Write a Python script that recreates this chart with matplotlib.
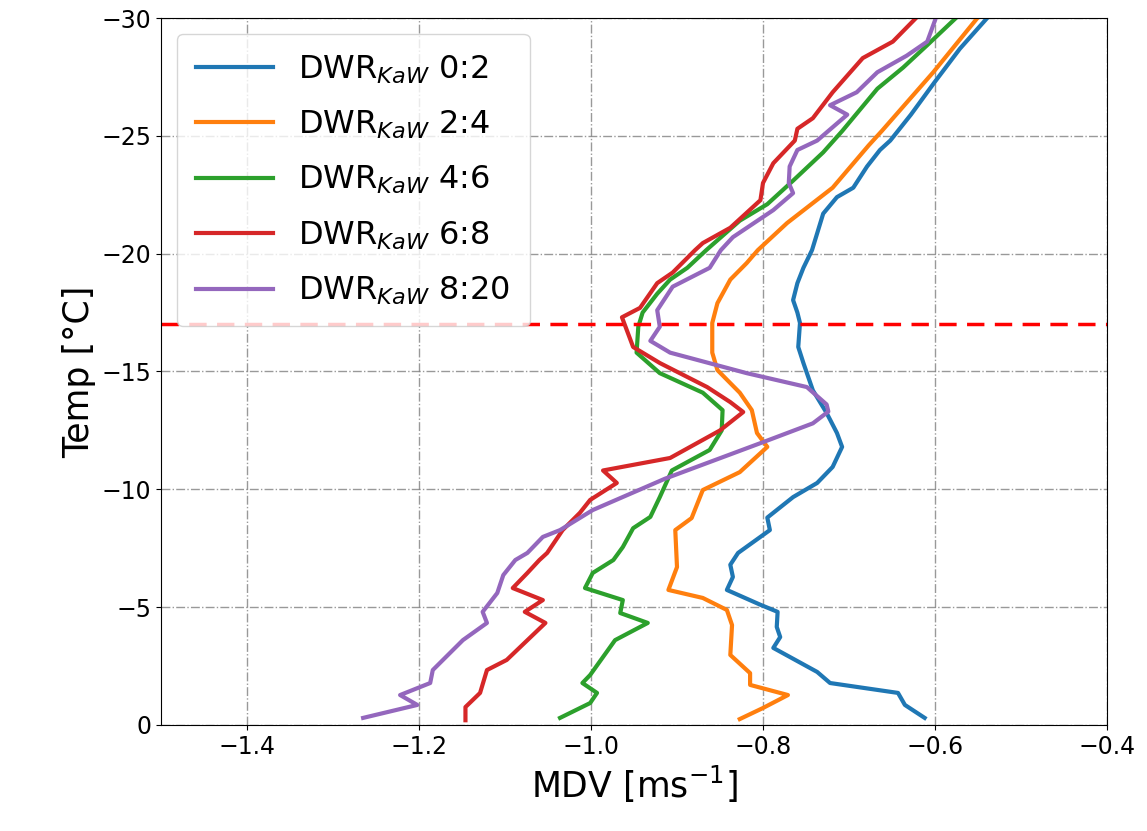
import numpy as np
import matplotlib.pyplot as plt

# temperature levels / MDV values
t_02 = [-0.3, -0.85, -1.36, -1.78, -2.25, -3.27, -3.73, -4.16, -4.8, -5.1, -5.73, -6.28, -6.8, -7.3, -8.27, -8.8,
        -9.67, -10.27, -10.95, -11.8, -12.39, -13.24, -14.2, -15.36, -16.04, -17.06, -17.5, -18.03, -18.75, -19.4,
        -20.15, -21.7, -22.4, -22.8, -23.7, -24.4, -24.8, -25.9, -27.3, -28.7, -30.3]
v_02 = [-0.612, -0.635, -0.643, -0.722, -0.737, -0.788, -0.780, -0.784, -0.783, -0.803, -0.842, -0.835, -0.838,
        -0.829, -0.792, -0.795, -0.765, -0.737, -0.719, -0.708, -0.714, -0.726, -0.742, -0.753, -0.759, -0.757,
        -0.760, -0.765, -0.760, -0.753, -0.743, -0.730, -0.714, -0.695, -0.679, -0.664, -0.652, -0.628, -0.600,
        -0.571, -0.532]

t_24 = [-0.25, -0.72, -1.27, -1.7, -2.2, -2.97, -4.24, -4.88, -5.39, -5.73, -6.7, -8.27, -8.78, -9.97, -10.73,
        -11.8, -12.39, -13.36, -14.1, -15.06, -15.8, -17.06, -17.9, -18.9, -19.6, -20.15, -21.3, -22.8, -24.6,
        -25.2, -27.7, -30.3]
v_24 = [-0.827, -0.800, -0.771, -0.815, -0.815, -0.838, -0.836, -0.842, -0.870, -0.910, -0.900, -0.902, -0.883,
        -0.870, -0.827, -0.795, -0.807, -0.813, -0.827, -0.853, -0.859, -0.859, -0.853, -0.838, -0.819, -0.806,
        -0.772, -0.719, -0.677, -0.662, -0.602, -0.544]

t_46 = [-0.3, -0.93, -1.36, -1.78, -2.12, -3.6, -4.33, -4.75, -5.3, -5.81, -6.45, -7.0, -7.55, -8.35, -8.83,
        -9.67, -10.8, -11.67, -12.5, -13.36, -14.1, -14.93, -15.8, -16.9, -17.5, -18.3, -18.9, -19.4, -20.15,
        -21.4, -22.1, -23.1, -24.3, -25.2, -27.0, -27.9, -28.85, -30.3]
v_46 = [-1.036, -1.001, -0.993, -1.010, -1.001, -0.972, -0.934, -0.966, -0.963, -1.007, -0.998, -0.974, -0.963,
        -0.951, -0.931, -0.920, -0.906, -0.862, -0.848, -0.847, -0.870, -0.920, -0.947, -0.945, -0.940, -0.923,
        -0.908, -0.888, -0.866, -0.827, -0.795, -0.765, -0.730, -0.708, -0.667, -0.637, -0.609, -0.567]

t_68 = [-0.2, -0.76, -1.36, -2.33, -2.76, -4.33, -4.8, -5.3, -5.81, -6.45, -7.0, -7.3, -8.27, -9.0, -9.55,
        -10.27, -10.8, -11.33, -12.5, -13.28, -13.7, -14.34, -15.36, -16.04, -17.3, -17.7, -18.75, -19.2, -20.15,
        -20.45, -21.1, -22.27, -23.0, -23.84, -24.8, -25.3, -25.75, -26.85, -28.3, -29.0, -30.3]
v_68 = [-1.146, -1.146, -1.129, -1.121, -1.098, -1.053, -1.077, -1.056, -1.091, -1.074, -1.060, -1.051, -1.033,
        -1.013, -1.001, -0.970, -0.986, -0.908, -0.850, -0.823, -0.838, -0.865, -0.920, -0.951, -0.964, -0.943,
        -0.923, -0.905, -0.879, -0.870, -0.838, -0.803, -0.800, -0.788, -0.763, -0.760, -0.742, -0.719, -0.684,
        -0.649, -0.614]

t_820 = [-0.3, -0.85, -1.27, -1.78, -2.33, -3.6, -4.33, -4.8, -5.6, -6.36, -7.0, -7.3, -7.98, -8.27, -9.12,
         -10.45, -12.0, -12.8, -13.3, -13.6, -14.34, -14.93, -15.8, -16.3, -16.9, -17.6, -18.6, -19.4, -20.15,
         -20.7, -21.85, -22.57, -23.0, -23.7, -24.4, -24.8, -25.9, -26.3, -26.85, -27.7, -28.4, -29.0, -30.3]
v_820 = [-1.265, -1.202, -1.222, -1.187, -1.184, -1.149, -1.121, -1.126, -1.109, -1.102, -1.088, -1.074, -1.056,
         -1.036, -0.998, -0.914, -0.800, -0.742, -0.724, -0.726, -0.749, -0.819, -0.908, -0.931, -0.920, -0.923,
         -0.905, -0.862, -0.849, -0.835, -0.788, -0.765, -0.770, -0.769, -0.760, -0.737, -0.702, -0.722, -0.691,
         -0.667, -0.633, -0.609, -0.596]

labels = ['0:2', '2:4', '4:6', '6:8', '8:20']
t_line = -17

fig = plt.figure(figsize=(11.47, 8.31), dpi=100)
ax = fig.add_axes([0.1404, 0.1276, 0.8247, 0.8507])

series = [(v_02, t_02), (v_24, t_24), (v_46, t_46), (v_68, t_68), (v_820, t_820)]
for (v, t), lab in zip(series, labels):
    ax.plot(v, t, lw=3, label=r'DWR$_{KaW}$ ' + lab)

ax.axhline(t_line, color='red', ls='--', lw=2.5, dashes=(5, 3))

ax.set_xlim(-1.5, -0.4)
ax.set_ylim(0, -30)
ax.set_xticks([-1.4, -1.2, -1.0, -0.8, -0.6, -0.4])
ax.set_yticks([0, -5, -10, -15, -20, -25, -30])
ax.tick_params(labelsize=17)
ax.grid(True, color='grey', ls='-.', lw=1, alpha=0.8)
ax.set_xlabel(r'MDV [ms$^{-1}$]', fontsize=25)
ax.set_ylabel('Temp [°C]', fontsize=25)
ax.legend(loc='upper left', fontsize=23, handlelength=2.4, labelspacing=0.72, borderpad=0.6)

fig.savefig('out.png', dpi=100)
